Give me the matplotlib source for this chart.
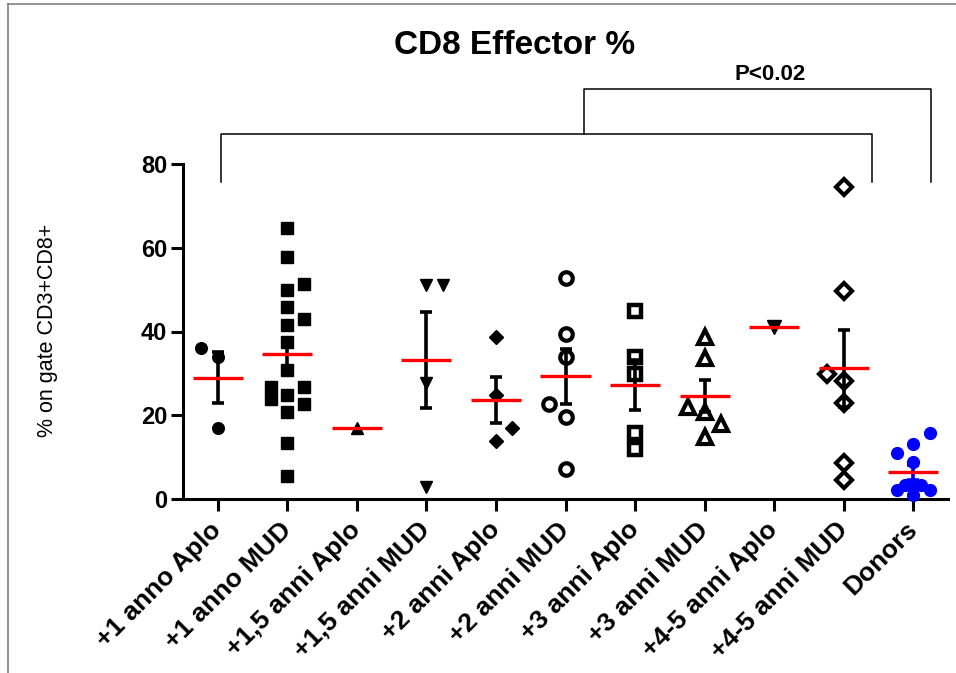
import numpy as np
import matplotlib
matplotlib.use('Agg')
import matplotlib.pyplot as plt
from matplotlib.lines import Line2D

plt.rcParams['font.family'] = ['Liberation Sans', 'DejaVu Sans']

# data (order within a group only drives the swarm layout)
categories = ['+1 anno Aplo', '+1 anno MUD', '+1,5 anni Aplo', '+1,5 anni MUD',
              '+2 anni Aplo', '+2 anni MUD', '+3 anni Aplo', '+3 anni MUD',
              '+4-5 anni Aplo', '+4-5 anni MUD', 'Donors']
anno1_aplo = [34.0, 16.9, 36.0]
anno1_mud = [64.7, 57.8, 50.0, 45.9, 41.5, 37.5, 30.8, 24.8, 20.8, 13.4, 5.5,
             51.3, 24.0, 42.9, 26.7, 22.8, 26.7]
anni15_aplo = [16.9]
anni15_mud = [51.1, 27.6, 2.9, 51.1]
anni2_aplo = [38.7, 24.8, 13.9, 16.9]
anni2_mud = [52.8, 39.5, 34.0, 19.5, 7.1, 22.7]
anni3_aplo = [44.8, 33.8, 29.8, 15.8, 12.0]
anni3_mud = [38.7, 33.6, 20.8, 14.9, 17.9, 21.9]
anni45_aplo = [41.0]
anni45_mud = [74.4, 49.7, 28.2, 23.0, 8.7, 4.5, 29.8]
donors = [13.1, 8.9, 15.8, 11.0, 1.0, 2.1, 2.1, 3.3, 3.3, 2.9]

groups = [anno1_aplo, anno1_mud, anni15_aplo, anni15_mud, anni2_aplo, anni2_mud,
          anni3_aplo, anni3_mud, anni45_aplo, anni45_mud, donors]

# marker styles per group
styles = [
    dict(marker='o', ms=8.4, mfc='black', mec='black', mew=1),
    dict(marker='s', ms=9.0, mfc='black', mec='black', mew=1),
    dict(marker='^', ms=8.5, mfc='black', mec='black', mew=1),
    dict(marker='v', ms=8.5, mfc='black', mec='black', mew=1),
    dict(marker='D', ms=7.0, mfc='black', mec='black', mew=1),
    dict(marker='o', ms=9.0, mfc='white', mec='black', mew=3.0),
    dict(marker='s', ms=8.0, mfc='white', mec='black', mew=3.2),
    dict(marker='^', ms=10.0, mfc='white', mec='black', mew=3.0),
    dict(marker='v', ms=10.0, mfc='black', mec='black', mew=1),
    dict(marker='D', ms=8.5, mfc='white', mec='black', mew=3.0),
    dict(marker='o', ms=8.5, mfc='#0000ff', mec='#0000ff', mew=1),
]
bar_colors = ['black'] * 10 + ['#0000ff']
swarm_gap = [3.5, 2.4, 3.2, 3.2, 3.5, 4.0, 3.0, 3.2, 3.2, 3.5, 3.0]
swarm_side = [-1, 1, 1, 1, 1, -1, 1, 1, 1, -1, 1]
step = 0.237


def swarm_offsets(vals, gap, side):
    placed = []
    offsets = []
    for v in vals:
        chosen = None
        for slot in [0, side, -side, 0.5 * side, -0.5 * side]:
            if all(abs(v - pv) >= gap for ps, pv in placed if ps == slot):
                chosen = slot
                break
        if chosen is None:
            chosen = 0
        if chosen != 0 or any(abs(v - pv) < gap for ps, pv in placed if ps == 0):
            side = -side
        placed.append((chosen, v))
        offsets.append(chosen * step)
    return offsets


fig = plt.figure(figsize=(9.56, 6.73), dpi=100)
ax = fig.add_axes([183 / 956, 1 - 499 / 673, (948 - 183) / 956, (499 - 164) / 673])

for i, vals in enumerate(groups):
    vals = np.array(vals)
    offs = swarm_offsets(vals, swarm_gap[i], swarm_side[i])
    ax.plot(i + np.array(offs), vals, ls='none', clip_on=False, zorder=3,
            **styles[i])
    mean = vals.mean()
    if len(vals) > 1:
        sem = vals.std(ddof=1) / np.sqrt(len(vals))
        ax.errorbar(i, mean, yerr=sem, color=bar_colors[i], elinewidth=2.6,
                    capsize=4.5, capthick=2.6, zorder=4, clip_on=False)
    ax.plot([i - 0.36, i + 0.36], [mean, mean], color='#ff0000', lw=2.4,
            zorder=5, solid_capstyle='butt')

ax.set_xlim(-0.5, 10.5)
ax.set_ylim(0, 80)
ax.set_yticks([0, 20, 40, 60, 80])
ax.set_xticks(range(len(categories)))
ax.set_xticklabels(categories, rotation=45, ha='right', va='center',
                   rotation_mode='anchor', fontsize=19, fontweight='bold')
for lab in ax.get_yticklabels():
    lab.set_fontsize(17)
    lab.set_fontweight('bold')
ax.tick_params(axis='both', length=8.5, width=2.2, color='black')
ax.tick_params(axis='x', pad=11)
ax.tick_params(axis='y', pad=3)
for side in ['top', 'right']:
    ax.spines[side].set_visible(False)
for side in ['left', 'bottom']:
    ax.spines[side].set_linewidth(2.2)

ax.set_ylabel('')
fig.text(48 / 956, 1 - 330 / 673, '% on gate CD3+CD8+', rotation=90,
         ha='center', va='center', fontsize=15.5)
fig.text(515 / 956, 1 - 45 / 673, 'CD8 Effector %', ha='center', va='center',
         fontsize=24, fontweight='bold')

# significance brackets
ax.plot([0.04, 0.04, 9.40, 9.40], [75.7, 87.1, 87.1, 75.7], color='black',
        lw=1.1, clip_on=False)
ax.plot([5.27, 5.27, 10.26, 10.26], [87.1, 97.9, 97.9, 75.7], color='black',
        lw=1.1, clip_on=False)
ax.text(7.94, 101.4, 'P<0.02', ha='center', va='center', fontsize=16,
        fontweight='bold', clip_on=False)

# figure frame (top and left edges)
fig.add_artist(Line2D([8 / 956, 8 / 956], [0, 1 - 4 / 673],
                      transform=fig.transFigure, color='#808080', lw=1.2))
fig.add_artist(Line2D([8 / 956, 1], [1 - 4 / 673, 1 - 4 / 673],
                      transform=fig.transFigure, color='#808080', lw=1.2))

fig.savefig('out.png', dpi=100)
